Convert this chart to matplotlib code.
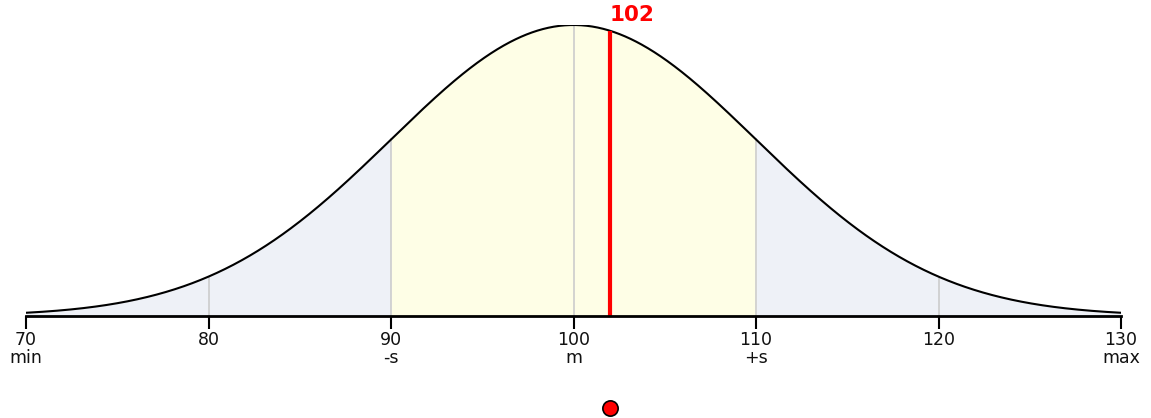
import numpy as np
import matplotlib
matplotlib.use("Agg")
import matplotlib.pyplot as plt

mean = 100
sd = 10
xmin, xmax = 70, 130
value = 102
tick_values = [70, 80, 90, 100, 110, 120, 130]
tick_sub = ["min", "", "-s", "m", "+s", "", "max"]
grid_values = [80, 90, 100, 110, 120]

def pdf(x):
    return np.exp(-0.5 * ((np.asarray(x) - mean) / sd) ** 2)

W, H = 1151, 418
fig = plt.figure(figsize=(W / 100, H / 100), dpi=100)
ax = fig.add_axes([26 / W, (H - 316) / H, (1121 - 26) / W, (316 - 25) / H])
ax.set_xlim(xmin, xmax)
ax.set_ylim(0, 1)

x = np.linspace(xmin, xmax, 1200)
y = pdf(x)
outer = "#eef1f7"
inner = "#fefee6"
ax.fill_between(x, 0, y, where=(x <= mean - sd), color=outer, lw=0)
ax.fill_between(x, 0, y, where=(x >= mean + sd), color=outer, lw=0)
ax.fill_between(x, 0, y, where=(x >= mean - sd) & (x <= mean + sd), color=inner, lw=0)
for g in grid_values:
    ax.plot([g, g], [0, pdf(g)], color="#cccccc", lw=1.2, zorder=2)
ax.plot(x, y, color="black", lw=1.5, zorder=3)

ax.plot([value, value], [0, pdf(value)], color="#ff0000", lw=3, zorder=4, solid_capstyle="butt")
ax.text(value + 0.0, 1.0 + 10 / 291, str(value), color="#ff0000", fontsize=15.5,
        fontweight="bold", ha="left", va="center", clip_on=False)

ax.plot([value], [-(408 - 316) / 291], marker="o", markersize=11, markerfacecolor="#ff0000",
        markeredgecolor="black", markeredgewidth=1.2, clip_on=False, zorder=5)

for s in ["top", "left", "right"]:
    ax.spines[s].set_visible(False)
ax.spines["bottom"].set_linewidth(2)
ax.spines["bottom"].set_zorder(6)
ax.set_yticks([])
ax.set_xticks(tick_values)
ax.set_xticklabels([f"{v}\n{s}" for v, s in zip(tick_values, tick_sub)], fontsize=12.5,
                   linespacing=1.0, color="#111111")
ax.tick_params(axis="x", length=9, width=1.5, pad=2)

fig.savefig("out.png", dpi=100)
